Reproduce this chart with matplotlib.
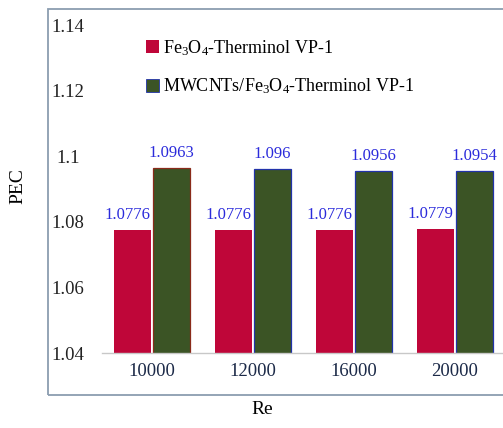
import matplotlib.pyplot as plt
import matplotlib.patches as mpatches
import numpy as np

# PEC values by Reynolds number
re_labels = ["10000", "12000", "16000", "20000"]
pec_fe3o4 = [1.0776, 1.0776, 1.0776, 1.0779]
pec_hybrid = [1.0963, 1.096, 1.0956, 1.0954]
label_fe3o4 = ["1.0776", "1.0776", "1.0776", "1.0779"]
label_hybrid = ["1.0963", "1.096", "1.0956", "1.0954"]
y_ticks = [1.04, 1.06, 1.08, 1.1, 1.12, 1.14]
y_tick_labels = ["1.04", "1.06", "1.08", "1.1", "1.12", "1.14"]

plt.rcParams['font.family'] = ['Liberation Serif', 'DejaVu Serif']
plt.rcParams['mathtext.fontset'] = 'custom'
plt.rcParams['mathtext.rm'] = 'Liberation Serif'
plt.rcParams['mathtext.it'] = 'Liberation Serif:italic'

W, H = 503, 428
fig = plt.figure(figsize=(W / 100, H / 100), dpi=100)

# outer frame of the chart (right side runs off the picture)
frame = mpatches.Rectangle((48 / W, 1 - 395 / H), (520 - 48) / W, (395 - 9) / H,
                           transform=fig.transFigure, fill=False,
                           edgecolor='#8b9db0', linewidth=1.3)
fig.patches.append(frame)

ax = fig.add_axes([101.5 / W, 1 - 353 / H, 404 / W, 328 / H])
ax.set_facecolor('none')

red = '#bf0639'
green = '#3b5425'
blue_text = '#2b2bdb'
name_fe3o4 = 'Fe$_3$O$_4$-Therminol VP-1'
name_hybrid = 'MWCNTs/Fe$_3$O$_4$-Therminol VP-1'

x = np.arange(len(re_labels))
w = 0.375
ax.bar(x - w / 2 - 0.005, pec_fe3o4, w, color=red)
edge_cols = ['#8a2a1a', '#2233aa', '#2233aa', '#2233aa']
ax.bar(x + w / 2 + 0.005, pec_hybrid, w, color=green, edgecolor=edge_cols, linewidth=0.9)

for i in range(len(x)):
    ax.annotate(label_fe3o4[i], (x[i] - w / 2, pec_fe3o4[i]), xytext=(-4, 5),
                textcoords='offset points', ha='center', va='bottom',
                color=blue_text, fontsize=12)
    ax.annotate(label_hybrid[i], (x[i] + w / 2, pec_hybrid[i]), xytext=(0, 5),
                textcoords='offset points', ha='center', va='bottom',
                color=blue_text, fontsize=12)

ax.set_ylim(1.04, 1.14)
ax.set_xlim(-0.5, 3.5)
ax.set_yticks(y_ticks)
ax.set_yticklabels(y_tick_labels, fontsize=13.5, color='#222222')
for t in ax.get_yticklabels():
    t.set_horizontalalignment('center')
ax.tick_params(axis='y', length=0, pad=24)
ax.set_xticks(x)
ax.set_xticklabels(re_labels, fontsize=13.5, color='#1c2a48')
ax.tick_params(axis='x', length=0, pad=7)

for s in ['top', 'right', 'left']:
    ax.spines[s].set_visible(False)
ax.spines['bottom'].set_color('#c8c8c8')
ax.spines['bottom'].set_linewidth(1.0)

handles = [mpatches.Patch(facecolor=red, label=name_fe3o4),
           mpatches.Patch(facecolor=green, edgecolor='#2233aa', linewidth=0.6, label=name_hybrid)]
ax.legend(handles=handles, loc='upper left', bbox_to_anchor=(137 / W, 1 - 29 / H),
          bbox_transform=fig.transFigure, frameon=False, fontsize=13,
          handlelength=0.7, handleheight=0.7, handletextpad=0.25,
          labelspacing=1.05, borderpad=0)

fig.text(262 / W, 1 - 409 / H, "Re", ha='center', va='center', fontsize=14)
fig.text(18 / W, 1 - 186 / H, "PEC", ha='center', va='center', rotation=90, fontsize=14)

fig.savefig("out.png", dpi=100)
